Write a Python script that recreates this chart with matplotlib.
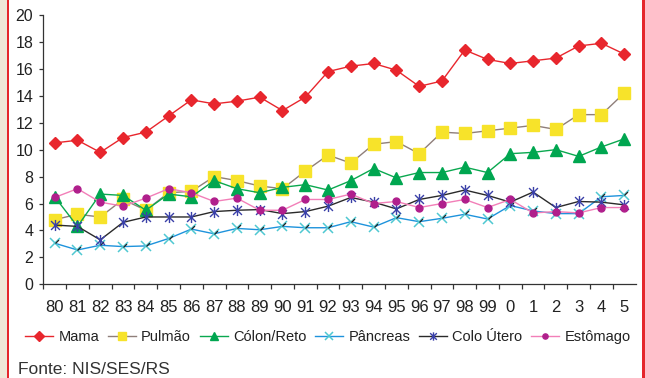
import numpy as np
import matplotlib
matplotlib.use("Agg")
import matplotlib.pyplot as plt
from matplotlib.patches import Rectangle
from matplotlib.path import Path

plt.rcParams['font.family'] = ['Liberation Sans', 'DejaVu Sans']

years = ['80', '81', '82', '83', '84', '85', '86', '87', '88', '89', '90', '91', '92',
         '93', '94', '95', '96', '97', '98', '99', '0', '1', '2', '3', '4', '5']

mama = [10.5, 10.7, 9.8, 10.9, 11.3, 12.5, 13.7, 13.4, 13.6, 13.9, 12.9, 13.9, 15.8,
        16.2, 16.4, 15.9, 14.7, 15.1, 17.4, 16.7, 16.4, 16.6, 16.8, 17.7, 17.9, 17.1]
pulmao = [4.8, 5.2, 5.0, 6.3, 5.5, 6.8, 6.9, 8.0, 7.7, 7.3, 7.1, 8.4, 9.6,
          9.0, 10.4, 10.6, 9.7, 11.3, 11.2, 11.4, 11.6, 11.8, 11.5, 12.6, 12.6, 14.2]
colon = [6.5, 4.3, 6.7, 6.6, 5.5, 6.7, 6.5, 7.7, 7.1, 6.8, 7.2, 7.4, 7.0,
         7.7, 8.6, 7.9, 8.3, 8.3, 8.7, 8.3, 9.7, 9.8, 10.0, 9.5, 10.2, 10.8]
pancreas = [3.05, 2.55, 2.9, 2.8, 2.85, 3.4, 4.1, 3.75, 4.15, 4.05, 4.3, 4.2, 4.2,
            4.65, 4.25, 4.95, 4.65, 4.9, 5.2, 4.85, 5.85, 5.45, 5.25, 5.25, 6.5, 6.6]
colo_utero = [4.4, 4.3, 3.3, 4.6, 5.0, 5.0, 5.0, 5.4, 5.5, 5.55, 5.25, 5.4, 5.8,
              6.45, 6.1, 5.6, 6.3, 6.6, 7.0, 6.6, 6.1, 6.85, 5.7, 6.15, 6.1, 5.9]
estomago = [6.45, 7.1, 6.1, 5.8, 6.4, 7.1, 6.8, 6.15, 6.4, 5.5, 5.5, 6.3, 6.3,
            6.7, 6.0, 6.15, 5.7, 6.0, 6.3, 5.7, 6.3, 5.3, 5.4, 5.3, 5.7, 5.7]

W, H = 645, 378
fig = plt.figure(figsize=(W / 100, H / 100), dpi=100)

# decorative page frame
fig.patches.append(Rectangle((0, 0), 6.7 / W, 1, transform=fig.transFigure,
                             facecolor='#efe7d8', edgecolor='none', zorder=0))
fig.patches.append(Rectangle((6.7 / W, 0), 2.4 / W, 1, transform=fig.transFigure,
                             facecolor='#e5262c', edgecolor='none', zorder=0))
fig.patches.append(Rectangle((642 / W, 0), 3 / W, 1, transform=fig.transFigure,
                             facecolor='#e5262c', edgecolor='none', zorder=0))

x0, x1 = 43.3, 635.6
ytop, ybot = 15.0, 284.3
ax = fig.add_axes([x0 / W, 1 - ybot / H, (x1 - x0) / W, (ybot - ytop) / H])
ax.set_facecolor('none')

x = np.arange(len(years))

slash = Path([(0, 0), (1, 1)])
star = Path([(-1, -1), (1, 1), (-1, 1), (1, -1), (0, -1.25), (0, 1.25)],
            [Path.MOVETO, Path.LINETO, Path.MOVETO, Path.LINETO, Path.MOVETO, Path.LINETO])

ax.plot(x, mama, color='#e8262d', lw=1.0, marker='D', ms=6.3, mfc='#e8262d',
        mec='#e8262d', label='Mama')
ax.plot(x, pulmao, color='#8f7f7a', lw=1.0, marker='s', ms=8, mfc='#f7e32a',
        mec='#f7e32a', label='Pulmão')
ax.plot(x, colon, color='#0aa84f', lw=1.0, marker='^', ms=8, mfc='#00a650',
        mec='#00a650', label='Cólon/Reto')
ax.plot(x, pancreas, color='#1e93dc', lw=1.0, marker='x', ms=7, mec='#4fc8d2',
        mew=1.1, label='Pâncreas')
ax.plot(x, pancreas, ls='none', marker=slash, ms=5, mec='#222222', mew=0.9)
ax.plot(x, colo_utero, color='#2a2a2a', lw=1.0, marker=star, ms=8,
        mec='#3a40a8', mew=1.0, label='Colo Útero')
ax.plot(x, estomago, color='#f27fb8', lw=1.0, marker='o', ms=5, mfc='#b01f8c',
        mec='#b01f8c', label='Estômago')

ax.set_xlim(-0.5, len(years) - 0.5)
ax.set_ylim(0, 20)
ax.set_yticks(np.arange(0, 21, 2))
ax.set_xticks(np.arange(-0.5, len(years) - 1, 1.0))
ax.set_xticklabels([])
ax.set_xticks(x, minor=True)
ax.set_xticklabels(years, minor=True)

for s in ['top', 'right']:
    ax.spines[s].set_visible(False)
for s in ['left', 'bottom']:
    ax.spines[s].set_color('#333333')
    ax.spines[s].set_linewidth(0.9)

ax.tick_params(axis='y', direction='out', length=3, width=0.9, color='#333333',
               pad=4.3, labelsize=11.5, labelcolor='#222222')
ax.tick_params(axis='x', which='major', direction='out', length=3.6, width=0.9,
               color='#333333')
ax.tick_params(axis='x', which='minor', length=0, pad=11, labelsize=12,
               labelcolor='#222222')

fig.legend(loc='center', bbox_to_anchor=(328 / W, 1 - 336.7 / H), ncol=6,
           frameon=False, fontsize=10.5, handlelength=1.92, handletextpad=0.34,
           columnspacing=0.62, numpoints=1, markerscale=0.75,
           labelcolor='#222222', borderpad=0, borderaxespad=0)

fig.text(18.3 / W, 1 - 370 / H, 'Fonte: NIS/SES/RS', fontsize=12.5,
         color='#333333', va='center', ha='left')

fig.savefig('out.png', dpi=100)
